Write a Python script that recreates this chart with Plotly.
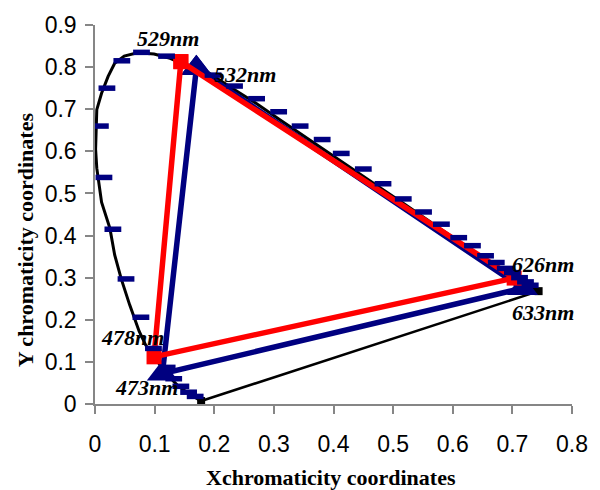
import plotly.graph_objects as go

# Spectral locus (smooth black curve), from the blue end round to the red end
locus_x = [0.178, 0.160, 0.140, 0.122, 0.108, 0.095, 0.085, 0.074, 0.058, 0.044,
           0.033, 0.025, 0.011, 0.003, 0.001, 0.003, 0.011, 0.022, 0.033, 0.049,
           0.071, 0.099, 0.126, 0.148, 0.170, 0.190, 0.230, 0.270, 0.310, 0.345,
           0.380, 0.415, 0.450, 0.485, 0.520, 0.550, 0.580, 0.610, 0.640, 0.670,
           0.700, 0.720, 0.744]
locus_y = [0.007, 0.022, 0.042, 0.068, 0.095, 0.122, 0.140, 0.173, 0.236, 0.297,
           0.354, 0.417, 0.479, 0.560, 0.605, 0.699, 0.738, 0.778, 0.809, 0.826,
           0.834, 0.831, 0.821, 0.807, 0.797, 0.787, 0.750, 0.714, 0.675, 0.641,
           0.609, 0.574, 0.541, 0.507, 0.474, 0.444, 0.415, 0.386, 0.357, 0.328,
           0.299, 0.282, 0.268]

# Line of purples closing the locus
purple_x = [0.178, 0.744]
purple_y = [0.007, 0.268]

# Tabulated spectral points (dash markers)
spec_x = [0.168, 0.157, 0.144, 0.132, 0.121, 0.098, 0.077, 0.052, 0.030, 0.015,
          0.009, 0.020, 0.045, 0.078, 0.120, 0.198, 0.234, 0.271, 0.308, 0.344,
          0.381, 0.413, 0.450, 0.483, 0.517, 0.551, 0.581, 0.610, 0.633, 0.655,
          0.673, 0.688, 0.700, 0.712, 0.722, 0.730]
spec_y = [0.018, 0.028, 0.042, 0.060, 0.087, 0.132, 0.206, 0.297, 0.415, 0.538,
          0.660, 0.750, 0.815, 0.835, 0.826, 0.781, 0.755, 0.725, 0.694, 0.660,
          0.628, 0.595, 0.558, 0.523, 0.487, 0.456, 0.427, 0.395, 0.376, 0.352,
          0.336, 0.322, 0.312, 0.300, 0.290, 0.282]

# Laser gamut triangles (green, red, blue primaries, closed)
gamut_a_names = ["532nm", "633nm", "473nm"]
gamut_a_x = [0.170, 0.717, 0.113, 0.170]
gamut_a_y = [0.797, 0.275, 0.072, 0.797]

gamut_b_names = ["529nm", "626nm", "478nm"]
gamut_b_x = [0.144, 0.703, 0.099, 0.144]
gamut_b_y = [0.813, 0.299, 0.112, 0.813]

# Wavelength label anchor points
label_text = ["529nm", "532nm", "478nm", "473nm", "626nm", "633nm"]
label_x = [0.122, 0.252, 0.063, 0.086, 0.752, 0.752]
label_y = [0.868, 0.783, 0.158, 0.040, 0.332, 0.217]

x_ticks = [0, 0.1, 0.2, 0.3, 0.4, 0.5, 0.6, 0.7, 0.8]
y_ticks = [0, 0.1, 0.2, 0.3, 0.4, 0.5, 0.6, 0.7, 0.8, 0.9]

NAVY = "#000080"
RED = "#FF0000"

fig = go.Figure()

fig.add_trace(go.Scatter(x=locus_x, y=locus_y, mode="lines",
                         line=dict(color="black", width=3), hoverinfo="skip"))
fig.add_trace(go.Scatter(x=purple_x, y=purple_y, mode="lines+markers",
                         line=dict(color="black", width=2.5),
                         marker=dict(symbol="square", size=8, color="black"),
                         hoverinfo="skip"))
fig.add_trace(go.Scatter(x=gamut_a_x, y=gamut_a_y, mode="lines+markers",
                         line=dict(color=NAVY, width=5.5),
                         marker=dict(symbol="triangle-up", size=27, color=NAVY),
                         hoverinfo="skip"))
fig.add_trace(go.Scatter(x=gamut_b_x, y=gamut_b_y, mode="lines+markers",
                         line=dict(color=RED, width=5.5),
                         marker=dict(symbol="square", size=15, color=RED),
                         hoverinfo="skip"))
fig.add_trace(go.Scatter(x=spec_x, y=spec_y, mode="markers",
                         marker=dict(symbol="line-ew", size=12,
                                     line=dict(color=NAVY, width=5.5)),
                         hoverinfo="skip"))

for t, lx, ly in zip(label_text, label_x, label_y):
    fig.add_annotation(x=lx, y=ly, text=f"<b><i>{t}</i></b>", showarrow=False,
                       xanchor="center", yanchor="middle",
                       font=dict(family="Liberation Serif, Times New Roman, serif",
                                 size=22, color="black"))

fig.add_annotation(xref="paper", yref="paper", x=0.494, y=-0.193,
                   text="<b>Xchromaticity coordinates</b>", showarrow=False,
                   xanchor="center", yanchor="middle",
                   font=dict(family="Liberation Serif, Times New Roman, serif",
                             size=22, color="black"))
fig.add_annotation(xref="paper", yref="paper", x=-0.144, y=0.433,
                   text="<b>Y chromaticity coordinates</b>", showarrow=False,
                   textangle=-90, xanchor="center", yanchor="middle",
                   font=dict(family="Liberation Serif, Times New Roman, serif",
                             size=22, color="black"))

axis_common = dict(showgrid=False, zeroline=False, showline=True,
                   linecolor="#868686", linewidth=1.5, ticks="outside",
                   ticklen=8, tickcolor="#868686", tickwidth=1.5,
                   tickfont=dict(family="Arial, Liberation Sans, sans-serif",
                                 size=23, color="black"))

fig.update_xaxes(range=[0, 0.8], tickvals=x_ticks,
                 ticktext=[f"{v:g}" for v in x_ticks],
                 ticklabelstandoff=11, **axis_common)
fig.update_yaxes(range=[0, 0.9], tickvals=y_ticks,
                 ticktext=[f"{v:g}" for v in y_ticks],
                 ticklabelstandoff=4, **axis_common)

fig.update_layout(width=600, height=490,
                  margin=dict(l=95, r=19, t=21, b=86),
                  paper_bgcolor="white", plot_bgcolor="white",
                  showlegend=False)

fig.write_html("out.html")
